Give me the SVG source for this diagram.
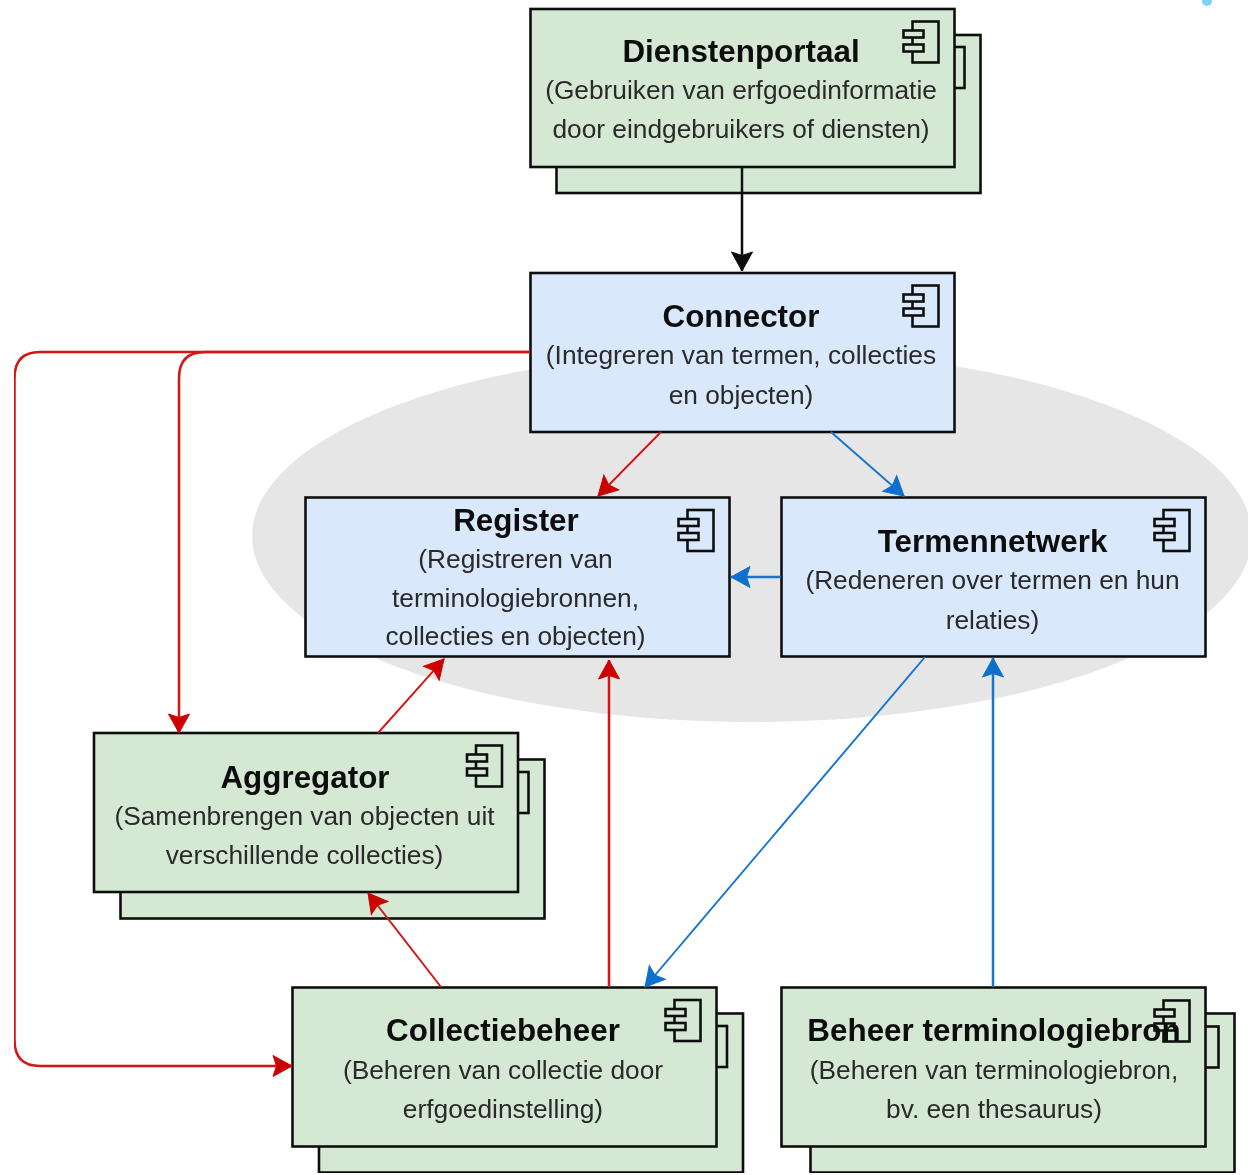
<svg xmlns="http://www.w3.org/2000/svg" width="1248" height="1175" viewBox="0 0 1248 1175">
<style>
text{font-family:"Liberation Sans",Arial,sans-serif;text-anchor:middle;fill:#111}
.t{font-size:31.4px;font-weight:bold}
.s{font-size:26.3px;fill:#2a2a2a}
.g{fill:#d5e8d4;stroke:#111;stroke-width:2.6}
.b{fill:#dae8fc;stroke:#111;stroke-width:2.6}
.i{fill:none;stroke:#111;stroke-width:2.6}
.c{fill:none;stroke-width:2.5}
.th{stroke-width:1.9}
.r{stroke:#d41414}
.u{stroke:#1874cd}
.k{stroke:#111}
</style>
<defs>
<filter id="soft" x="0" y="0" width="100%" height="100%"><feGaussianBlur stdDeviation="0.55"/></filter>
<g id="ic">
<rect class="i" x="-42" y="12" width="26" height="41"/>
<rect class="g" x="-51" y="21" width="20" height="7"/>
<rect class="g" x="-51" y="35" width="20" height="7"/>
</g>
<g id="icb">
<rect class="b" x="-42" y="12" width="26" height="41"/>
<rect class="b" x="-51" y="21" width="20" height="7"/>
<rect class="b" x="-51" y="35" width="20" height="7"/>
</g>
<g id="icg">
<rect class="g" x="-42" y="12" width="26" height="41"/>
<rect class="g" x="-51" y="21" width="20" height="7"/>
<rect class="g" x="-51" y="35" width="20" height="7"/>
</g>
<marker id="ak" markerUnits="userSpaceOnUse" markerWidth="26" markerHeight="26" viewBox="-23 -13 26 26" refX="0" refY="0" orient="auto"><path d="M0 0L-19 -10.5L-15.5 0L-19 10.5Z" fill="#111" stroke="#111" stroke-width="1"/></marker>
<marker id="ar" markerUnits="userSpaceOnUse" markerWidth="26" markerHeight="26" viewBox="-23 -13 26 26" refX="0" refY="0" orient="auto"><path d="M0 0L-19 -10.5L-15.5 0L-19 10.5Z" fill="#cc0000" stroke="#cc0000" stroke-width="1"/></marker>
<marker id="au" markerUnits="userSpaceOnUse" markerWidth="26" markerHeight="26" viewBox="-23 -13 26 26" refX="0" refY="0" orient="auto"><path d="M0 0L-19 -10.5L-15.5 0L-19 10.5Z" fill="#0f6fcc" stroke="#0f6fcc" stroke-width="1"/></marker>
</defs>
<rect width="1248" height="1175" fill="#fff"/>
<g id="diagram" filter="url(#soft)">
<ellipse id="zone" cx="752" cy="536" rx="500" ry="186" fill="#e6e6e6"/>
<circle cx="1207" cy="1" r="5" fill="#7fd0f8"/>

<g id="dienstenportaal">
<rect class="g" x="556.5" y="35" width="424" height="158"/>
<use href="#icg" x="980.5" y="35"/>
<rect class="g" x="530.5" y="9" width="424" height="158"/>
<use href="#ic" x="954.5" y="9.5"/>
<text class="t" x="741" y="62">Dienstenportaal</text>
<text class="s" x="741" y="99">(Gebruiken van erfgoedinformatie</text>
<text class="s" x="741" y="138">door eindgebruikers of diensten)</text>
</g>
<g id="connector">
<rect class="b" x="530.5" y="273" width="424" height="159"/>
<use href="#icb" x="954.5" y="273.5"/>
<text class="t" x="741" y="327">Connector</text>
<text class="s" x="741" y="364">(Integreren van termen, collecties</text>
<text class="s" x="741" y="404">en objecten)</text>
</g>
<g id="register">
<rect class="b" x="305.5" y="497.5" width="424" height="159"/>
<use href="#icb" x="729.5" y="498"/>
<text class="t" x="516" y="530.5">Register</text>
<text class="s" x="515.5" y="567.5">(Registreren van</text>
<text class="s" x="515.5" y="606.5">terminologiebronnen,</text>
<text class="s" x="515.5" y="644.5">collecties en objecten)</text>
</g>
<g id="termennetwerk">
<rect class="b" x="781.5" y="497.5" width="424" height="159"/>
<use href="#icb" x="1205.5" y="498"/>
<text class="t" x="992.5" y="551.5">Termennetwerk</text>
<text class="s" x="992.5" y="588.5">(Redeneren over termen en hun</text>
<text class="s" x="992.5" y="628.5">relaties)</text>
</g>
<g id="aggregator">
<rect class="g" x="120.5" y="759.5" width="424" height="159"/>
<use href="#icg" x="544.5" y="760"/>
<rect class="g" x="94" y="733" width="424" height="159"/>
<use href="#ic" x="518" y="733.5"/>
<text class="t" x="305" y="787.5">Aggregator</text>
<text class="s" x="304.5" y="824.5">(Samenbrengen van objecten uit</text>
<text class="s" x="304.5" y="863.5">verschillende collecties)</text>
</g>
<g id="collectiebeheer">
<rect class="g" x="319" y="1013.5" width="424" height="159"/>
<use href="#icg" x="743" y="1014"/>
<rect class="g" x="292.5" y="987.5" width="424" height="159"/>
<use href="#ic" x="716.5" y="988"/>
<text class="t" x="503" y="1040.5">Collectiebeheer</text>
<text class="s" x="503" y="1078.5">(Beheren van collectie door</text>
<text class="s" x="503" y="1117.5">erfgoedinstelling)</text>
</g>
<g id="beheer-terminologiebron">
<rect class="g" x="810.5" y="1013.5" width="424" height="159"/>
<use href="#icg" x="1234.5" y="1014.5"/>
<rect class="g" x="781.5" y="987.5" width="424" height="159"/>
<use href="#ic" x="1205.5" y="988.5"/>
<text class="t" x="994" y="1040.5">Beheer terminologiebron</text>
<text class="s" x="994" y="1078.5">(Beheren van terminologiebron,</text>
<text class="s" x="994" y="1117.5">bv. een thesaurus)</text>
</g>

<g id="connectors">
<path class="c k" d="M742 167V271" marker-end="url(#ak)"/>
<path class="c r" d="M530 352H40Q14.5 352 14.5 378V1040Q14.5 1066 40 1066H292" marker-end="url(#ar)"/>
<path class="c r" d="M530 352H205Q179 352 179 378V733" marker-end="url(#ar)"/>
<path class="c r th" d="M661 432L598 496" marker-end="url(#ar)"/>
<path class="c u th" d="M831 432L904 496" marker-end="url(#au)"/>
<path class="c u" d="M781 577H731" marker-end="url(#au)"/>
<path class="c u th" d="M925 657L645 987" marker-end="url(#au)"/>
<path class="c u" d="M993 987V658" marker-end="url(#au)"/>
<path class="c r th" d="M378 733L444 659" marker-end="url(#ar)"/>
<path class="c r" d="M609 987V660" marker-end="url(#ar)"/>
<path class="c r th" d="M441 987L368 893" marker-end="url(#ar)"/>
</g>
</g>
</svg>
